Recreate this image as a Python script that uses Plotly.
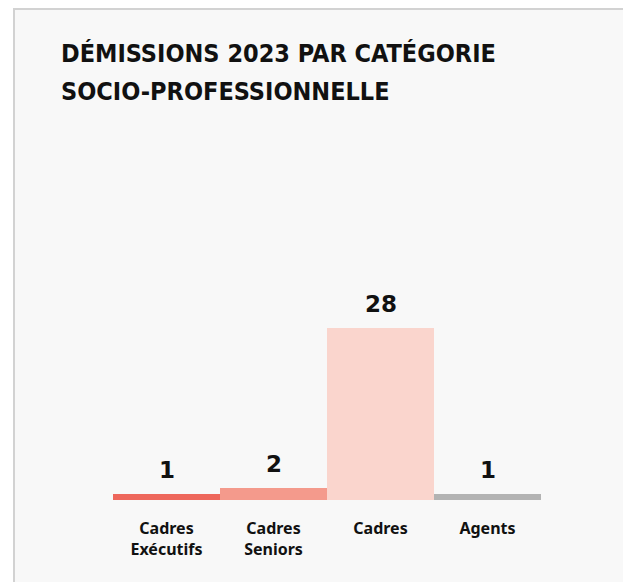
import plotly.graph_objects as go

# Démissions 2023 par catégorie socio-professionnelle
categories = ["Cadres<br>Exécutifs", "Cadres<br>Seniors", "Cadres", "Agents"]
demissions = [1, 2, 28, 1]
bar_colors = ["#ee675c", "#f49a8c", "#fad5cd", "#b3b3b3"]

W, H = 623, 582
M = dict(l=113, r=82, t=160, b=82)
PW, PH = W - M["l"] - M["r"], H - M["t"] - M["b"]


def px_x(p):
    return (p - M["l"]) / PW


def px_y(p):
    return (H - M["b"] - p) / PH


fig = go.Figure(
    go.Bar(
        x=categories,
        y=demissions,
        marker=dict(color=bar_colors, line=dict(width=0)),
        hoverinfo="x+y",
    )
)

# value labels above each bar
for cat, val in zip(categories, demissions):
    fig.add_annotation(
        x=cat, y=val, text=f"<b>{val}</b>", showarrow=False,
        yanchor="bottom", yshift=9,
        font=dict(family="DejaVu Sans", size=23, color="#111111"),
    )

# card background with a thin grey frame
fig.add_shape(
    type="rect", xref="paper", yref="paper",
    x0=px_x(14), x1=px_x(700), y0=px_y(660), y1=px_y(9),
    fillcolor="#f8f8f8", line=dict(color="#d2d2d2", width=2), layer="below",
)

title_font = dict(family="Liberation Sans Narrow, DejaVu Sans Condensed, sans-serif",
                  size=25, color="#111111")
for i, line in enumerate(["DÉMISSIONS 2023 PAR CATÉGORIE", "SOCIO-PROFESSIONNELLE"]):
    fig.add_annotation(
        xref="paper", yref="paper", x=px_x(59), y=px_y(53 + 38 * i),
        text=f"<b>{line}</b>", showarrow=False, xanchor="left", yanchor="middle",
        font=title_font,
    )

fig.update_layout(
    width=W, height=H, margin=M,
    paper_bgcolor="#ffffff", plot_bgcolor="rgba(0,0,0,0)",
    bargap=0, showlegend=False,
    xaxis=dict(
        showgrid=False, zeroline=False, showline=False, ticks="",
        ticklabelstandoff=17,
        tickvals=categories,
        ticktext=[f"<b>{c.replace('<br>', '</b><br><b>')}</b>" for c in categories],
        tickfont=dict(family="Noto Sans", size=16, color="#111111"),
        fixedrange=True,
    ),
    yaxis=dict(
        range=[0, PH / (172 / 28)], visible=False, showgrid=False,
        zeroline=False, fixedrange=True,
    ),
)

fig.write_html("out.html")
